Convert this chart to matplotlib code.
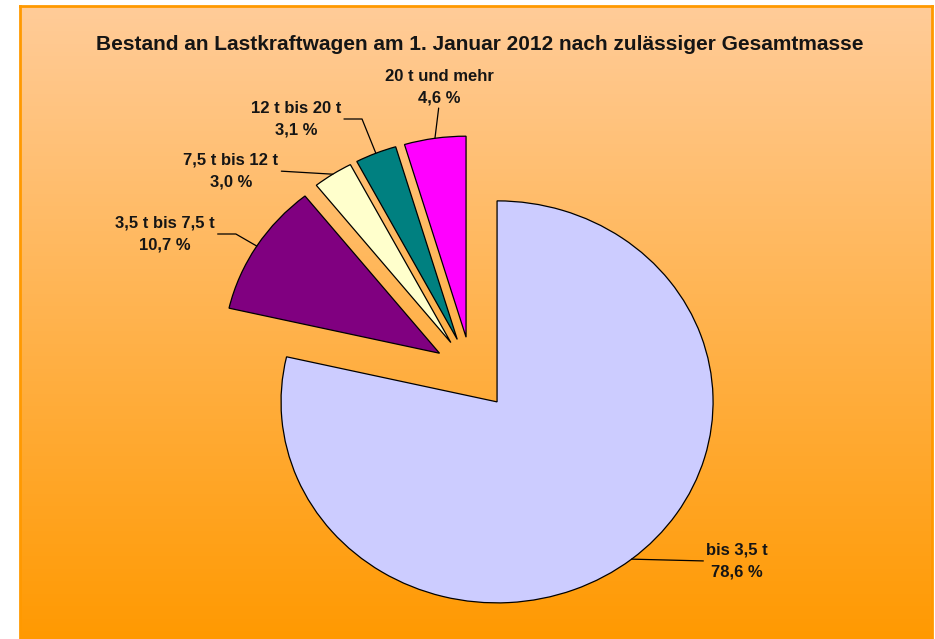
import numpy as np
import matplotlib
matplotlib.use('Agg')
import matplotlib.pyplot as plt
from matplotlib.colors import LinearSegmentedColormap

plt.rcParams['font.family'] = ['Liberation Sans', 'DejaVu Sans']

# data
labels = ['bis 3,5 t', '3,5 t bis 7,5 t', '7,5 t bis 12 t', '12 t bis 20 t', '20 t und mehr']
shares = [78.6, 10.7, 3.0, 3.1, 4.6]
share_text = ['78,6 %', '10,7 %', '3,0 %', '3,1 %', '4,6 %']
colors = ['#CCCCFF', '#800080', '#FFFFCC', '#008080', '#FF00FF']
explode = [0.19, 0.175, 0.175, 0.175, 0.175]

# label centres in figure pixels (from top) and how the leader leaves the text
label_pos = [(737, 561), (165, 234), (231, 171), (296, 119), (439, 87)]
label_relpos = [(0, 0.5), (1, 0.5), (1, 0.5), (1, 0.5), (0.5, 0)]
label_conn = ['arc3', 'angle,angleA=0,angleB=-30,rad=0', 'arc3',
              'angle,angleA=0,angleB=-68,rad=0', 'arc3']

W, H = 935, 639
fig = plt.figure(figsize=(W / 100, H / 100), dpi=100)
fig.patch.set_facecolor('white')

# gradient background box
bg = fig.add_axes([20 / W, -0.01, 912 / W, 633 / H + 0.01])
cmap = LinearSegmentedColormap.from_list('bg', ['#FF9900', '#FFCC99'])
grad = np.linspace(0, 1, 256).reshape(-1, 1)
bg.imshow(grad, cmap=cmap, aspect='auto', origin='lower', extent=(0, 1, 0, 1))
bg.set_xticks([])
bg.set_yticks([])
for s in ['left', 'right', 'top']:
    bg.spines[s].set_color('#FF9900')
    bg.spines[s].set_linewidth(2)
bg.spines['bottom'].set_visible(False)

# pie axes in pixel-like units (slightly elliptical pie as in the original)
rx, ry = 216, 201
cx, cy = 471.5, 372
ax = fig.add_axes([0, 0, 1, 1])
ax.patch.set_alpha(0)
wedges, _ = ax.pie(shares, colors=colors, explode=explode, startangle=90,
                   counterclock=False,
                   wedgeprops=dict(edgecolor='black', linewidth=0.9))
ax.set_aspect('auto')
ax.set_xlim(-cx / rx, (W - cx) / rx)
ax.set_ylim(-(H - cy) / ry, cy / ry)
ax.axis('off')

for w, lab, pct, pos, rp, conn in zip(wedges, labels, share_text, label_pos,
                                      label_relpos, label_conn):
    th = np.deg2rad((w.theta1 + w.theta2) / 2)
    px = w.center[0] + w.r * np.cos(th)
    py = w.center[1] + w.r * np.sin(th)
    ax.annotate(lab + '\n' + pct, xy=(px, py), xytext=(pos[0], H - pos[1]),
                textcoords='figure pixels', ha='center', va='center',
                fontsize=12, fontweight='bold', color='#151515',
                linespacing=1.55, multialignment='center',
                arrowprops=dict(arrowstyle='-', color='black', lw=0.9,
                                connectionstyle=conn, relpos=rp,
                                shrinkA=0, shrinkB=0))

fig.text(480 / W, 1 - 44 / H,
         'Bestand an Lastkraftwagen am 1. Januar 2012 nach zulässiger Gesamtmasse',
         ha='center', va='center', fontsize=15, fontweight='bold', color='#151515')

fig.savefig('out.png', dpi=100)
